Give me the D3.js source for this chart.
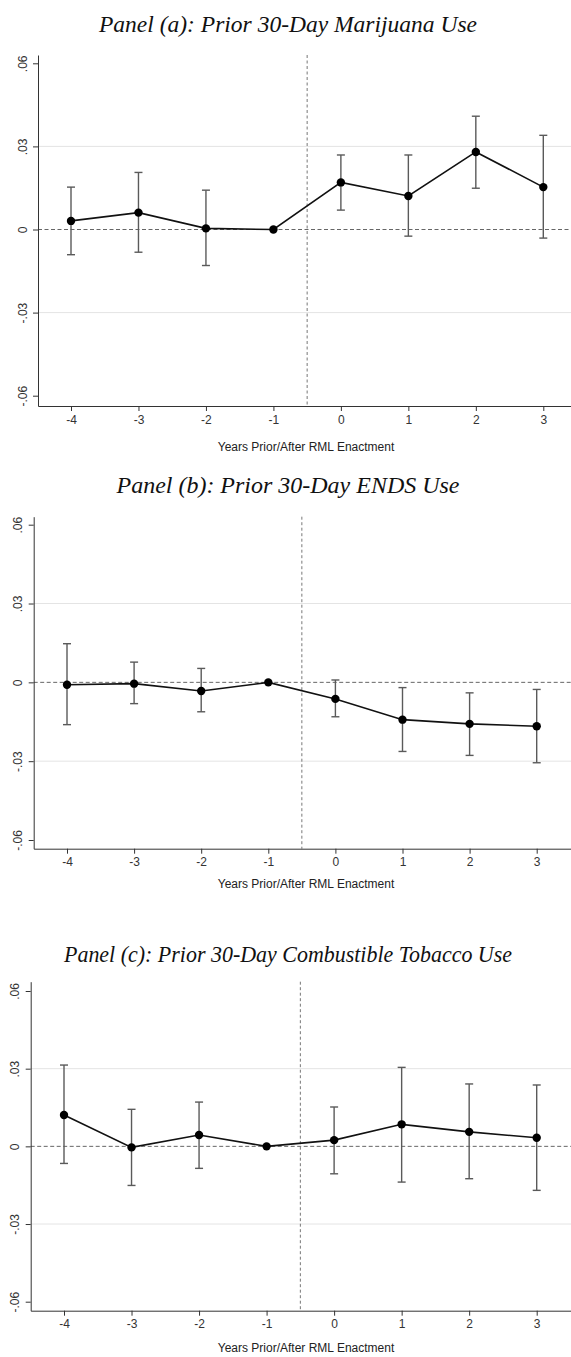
<!DOCTYPE html>
<html>
<head>
<meta charset="utf-8">
<script src="https://cdn.jsdelivr.net/npm/d3@7"></script>
<style>
  body { margin: 0; background: #fff; }
  .axis path, .axis line { stroke: #333; }
  .axis text { font-family: "Liberation Sans", Arial, sans-serif; font-size: 12px; fill: #333; }
</style>
</head>
<body>
<div id="chart"></div>
<script>
// Event-time categories
const years = [-4, -3, -2, -1, 0, 1, 2, 3];
const xTickLabels = ["-4", "-3", "-2", "-1", "0", "1", "2", "3"];
const yTickValues = [-0.06, -0.03, 0, 0.03, 0.06];
const yTickLabels = ["-.06", "-.03", "0", ".03", ".06"];
const gridValues = [-0.03, 0.03];

// Panel (a): marijuana
const marijuanaEst = [0.0031, 0.0061, 0.0004, 0, 0.0170, 0.0121, 0.0280, 0.0153];
const marijuanaLo  = [-0.0091, -0.0082, -0.0130, null, 0.0070, -0.0024, 0.0149, -0.0031];
const marijuanaHi  = [0.0153, 0.0206, 0.0142, null, 0.0269, 0.0269, 0.0409, 0.0340];

// Panel (b): ENDS
const endsEst = [-0.0009, -0.0005, -0.0033, 0, -0.0063, -0.0142, -0.0158, -0.0167];
const endsLo  = [-0.0161, -0.0081, -0.0112, null, -0.0131, -0.0263, -0.0278, -0.0306];
const endsHi  = [0.0147, 0.0077, 0.0053, null, 0.0009, -0.0020, -0.0040, -0.0027];

// Panel (c): combustible tobacco
const tobaccoEst = [0.0121, -0.0004, 0.0044, 0, 0.0024, 0.0085, 0.0056, 0.0033];
const tobaccoLo  = [-0.0066, -0.0151, -0.0085, null, -0.0106, -0.0138, -0.0125, -0.0170];
const tobaccoHi  = [0.0314, 0.0143, 0.0171, null, 0.0152, 0.0305, 0.0241, 0.0237];

const titles = [
  "Panel (a): Prior 30-Day Marijuana Use",
  "Panel (b): Prior 30-Day ENDS Use",
  "Panel (c): Prior 30-Day Combustible Tobacco Use"
];
const xTitle = "Years Prior/After RML Enactment";

const width = 571, height = 1357;

const svg = d3.select("#chart")
  .append("svg")
    .attr("width", width)
    .attr("height", height)
    .attr("viewBox", `0, 0, ${width}, ${height}`);

// layout of each panel (pixel positions)
const panels = [
  { est: marijuanaEst, lo: marijuanaLo, hi: marijuanaHi, title: titles[0],
    titleY: 32, titleW: 378, axisX: 38, top: 55, bottom: 406,
    xFirst: 71, xLast: 543.3, yHigh: 63.3, yLow: 395.7, xTitleY: 451 },
  { est: endsEst, lo: endsLo, hi: endsHi, title: titles[1],
    titleY: 493, titleW: 343, axisX: 33.7, top: 516.7, bottom: 848.7,
    xFirst: 67, xLast: 536.7, yHigh: 524.7, yLow: 840, xTitleY: 888 },
  { est: tobaccoEst, lo: tobaccoLo, hi: tobaccoHi, title: titles[2],
    titleY: 961.7, titleW: 448, axisX: 30.7, top: 981.7, bottom: 1310.7,
    xFirst: 64, xLast: 536.7, yHigh: 991, yLow: 1301.7, xTitleY: 1351.5 }
];

const drawPanel = (p) => {
  const g = svg.append("g");

  /****************************/
  /*    Declare the scales    */
  /****************************/
  const xScale = d3.scaleLinear()
    .domain([years[0], years[years.length - 1]])
    .range([p.xFirst, p.xLast]);
  const xLo = xScale.invert(p.axisX), xHi = xScale.invert(width);
  xScale.domain([xLo, xHi]).range([p.axisX, width]);

  const yScale = d3.scaleLinear()
    .domain([0.06, -0.06])
    .range([p.yHigh, p.yLow]);
  const yTop = yScale.invert(p.top), yBot = yScale.invert(p.bottom);
  yScale.domain([yTop, yBot]).range([p.top, p.bottom]);

  // Title
  g.append("text")
    .text(p.title)
    .attr("x", 288)
    .attr("y", p.titleY)
    .attr("text-anchor", "middle")
    .attr("textLength", p.titleW)
    .attr("lengthAdjust", "spacingAndGlyphs")
    .style("font-family", "'Liberation Serif', 'DejaVu Serif', serif")
    .style("font-style", "italic")
    .style("font-size", "23px")
    .style("fill", "#111");

  // Grid lines
  g.selectAll(".grid")
    .data(gridValues)
    .join("line")
      .attr("x1", p.axisX)
      .attr("x2", width)
      .attr("y1", d => yScale(d))
      .attr("y2", d => yScale(d))
      .attr("stroke", "#e4e4e4")
      .attr("stroke-width", 1);

  // Zero reference line
  g.append("line")
    .attr("x1", p.axisX)
    .attr("x2", width)
    .attr("y1", yScale(0))
    .attr("y2", yScale(0))
    .attr("stroke", "#666")
    .attr("stroke-width", 1)
    .attr("stroke-dasharray", "4,2.5");

  // Enactment line
  g.append("line")
    .attr("x1", xScale(-0.5))
    .attr("x2", xScale(-0.5))
    .attr("y1", p.top)
    .attr("y2", p.bottom)
    .attr("stroke", "#777")
    .attr("stroke-width", 1)
    .attr("stroke-dasharray", "3,2.5");

  const rows = years.map((yr, i) => ({ yr, est: p.est[i], lo: p.lo[i], hi: p.hi[i] }));
  const ciRows = rows.filter(d => d.lo !== null);

  // Confidence intervals
  g.selectAll(".ci")
    .data(ciRows)
    .join("line")
      .attr("x1", d => xScale(d.yr))
      .attr("x2", d => xScale(d.yr))
      .attr("y1", d => yScale(d.hi))
      .attr("y2", d => yScale(d.lo))
      .attr("stroke", "#5a5a5a")
      .attr("stroke-width", 1.4);
  ["hi", "lo"].forEach(k => {
    g.selectAll(".cap-" + k)
      .data(ciRows)
      .join("line")
        .attr("x1", d => xScale(d.yr) - 4)
        .attr("x2", d => xScale(d.yr) + 4)
        .attr("y1", d => yScale(d[k]))
        .attr("y2", d => yScale(d[k]))
        .attr("stroke", "#5a5a5a")
        .attr("stroke-width", 1.4);
  });

  // Connecting line
  const line = d3.line()
    .x(d => xScale(d.yr))
    .y(d => yScale(d.est));
  g.append("path")
    .datum(rows)
    .attr("d", line)
    .attr("fill", "none")
    .attr("stroke", "#111")
    .attr("stroke-width", 1.6);

  // Points
  g.selectAll(".pt")
    .data(rows)
    .join("circle")
      .attr("cx", d => xScale(d.yr))
      .attr("cy", d => yScale(d.est))
      .attr("r", 4.2)
      .attr("fill", "#000");

  /***************************/
  /*     Append the axes     */
  /***************************/
  const bottomAxis = d3.axisBottom(xScale)
    .tickValues(years)
    .tickFormat((d, i) => xTickLabels[i])
    .tickSize(5)
    .tickSizeOuter(0);
  g.append("g")
    .attr("class", "axis")
    .attr("transform", `translate(0, ${p.bottom})`)
    .call(bottomAxis)
    .selectAll("text")
      .attr("y", 9);

  const leftAxis = d3.axisLeft(yScale)
    .tickValues(yTickValues)
    .tickFormat((d, i) => yTickLabels[i])
    .tickSize(5)
    .tickSizeOuter(0);
  g.append("g")
    .attr("class", "axis")
    .attr("transform", `translate(${p.axisX}, 0)`)
    .call(leftAxis)
    .selectAll("text")
      .attr("x", 0)
      .attr("dy", "0.35em")
      .attr("text-anchor", "middle")
      .attr("transform", "translate(-15.5, 0) rotate(-90)");

  g.selectAll(".axis .domain").attr("stroke", "#333");

  // Axis title
  g.append("text")
    .text(xTitle)
    .attr("x", 306)
    .attr("y", p.xTitleY)
    .attr("text-anchor", "middle")
    .style("font-family", "'Liberation Sans', Arial, sans-serif")
    .style("font-size", "12px")
    .style("fill", "#222");
};

panels.forEach(drawPanel);
</script>
</body>
</html>
